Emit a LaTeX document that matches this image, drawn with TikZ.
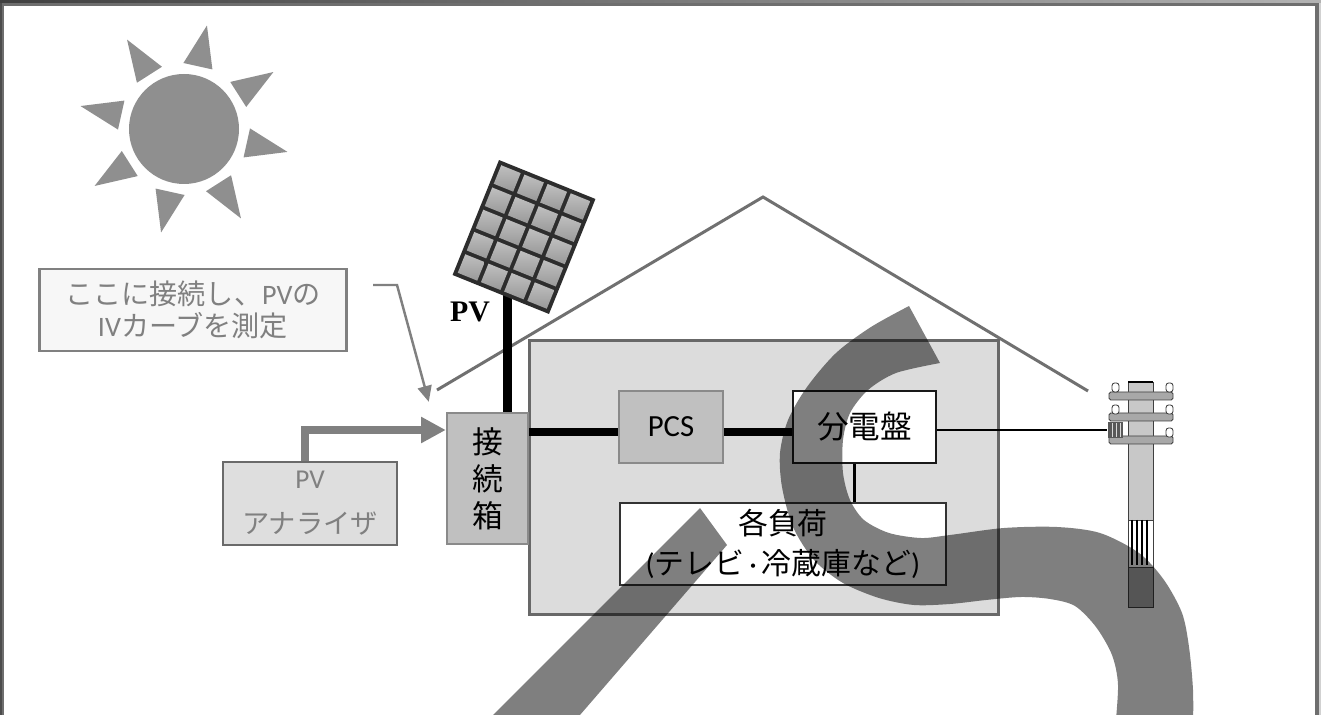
\documentclass[tikz,border=0pt]{standalone}
\usepackage{fontspec}
\setmainfont{Carlito}
\newfontfamily\jp{Noto Sans CJK JP}
\newfontfamily\pvserif{Liberation Serif}
\usepackage{tikz}
\usetikzlibrary{arrows.meta, positioning, calc}
\definecolor{framegray}{RGB}{110,110,110}
\definecolor{sungray}{RGB}{143,143,143}
\definecolor{roofgray}{RGB}{112,112,112}
\definecolor{boxgray}{RGB}{192,192,192}
\definecolor{boxedge}{RGB}{138,138,138}
\definecolor{housegray}{RGB}{220,220,220}
\definecolor{houseedge}{RGB}{104,104,104}
\definecolor{notegray}{RGB}{128,128,128}
\definecolor{notefill}{RGB}{247,247,247}
\definecolor{anafill}{RGB}{222,222,222}
\definecolor{anaedge}{RGB}{106,106,106}
\definecolor{panelline}{RGB}{45,45,45}
\definecolor{poleface}{RGB}{200,200,200}
\definecolor{armgray}{RGB}{168,168,168}

\begin{document}
\begin{tikzpicture}[x=0.02cm, y=-0.02cm,
  every node/.style={inner sep=0pt},
  greybox/.style={draw=boxedge, fill=boxgray, line width=1.4pt, align=center},
  bigtext/.style={font=\fontsize{17.5}{21}\selectfont},
  notetext/.style={text=notegray, align=center},
  buswire/.style={line width=4.2pt},
  thinwire/.style={line width=1.7pt},
  polepart/.style={draw=black!75, line width=0.5pt}]

  \useasboundingbox (0,0) rectangle (1321,715);
  \fill[framegray] (0,0) rectangle (1321,715);
  \shade[left color=black!75, right color=black!30] (0,0) rectangle (1321,3);
  \fill[black!70] (0,3) rectangle (2,715);
  \fill[black!18] (1319,3) rectangle (1321,715);
  \fill[white] (4,6) rectangle (1315,715);

  \fill[sungray] (184,129) circle (55);
  \foreach \a in {-77.5,-32.5,12.5,57.5,102.5,147.5,192.5,237.5}
    \fill[sungray, shift={(184,129)}] (\a-13:66) -- (\a:106) -- (\a+13:66) -- cycle;

  \draw[roofgray, line width=1.7pt] (437,390) -- (763,197) -- (1088,391);

  \node[draw=notegray, fill=notefill, line width=1.4pt, minimum width=6.14cm, minimum height=1.63cm,
    notetext, font=\fontsize{16}{18}\selectfont] (note) at (193,310)
    {{\jp ここに接続し、}PV{\jp の}\\IV{\jp カーブを測定}};
  \node[draw=anaedge, fill=anafill, line width=1.4pt, minimum width=3.48cm, minimum height=1.66cm,
    notetext, font=\fontsize{15.5}{25.5}\selectfont] (ana) at (310,503.5)
    {PV\\{\jp アナライザ}};

  \node[draw=houseedge, fill=housegray, line width=1.7pt, minimum width=9.4cm, minimum height=5.5cm] (house) at (764,477.5) {};
  \node[greybox, minimum width=1.62cm, minimum height=2.62cm, font=\jp\fontsize{17.5}{21}\selectfont] (jbox) at (487.5,478.5) {接\\続\\箱};
  \node[greybox, minimum width=2.08cm, minimum height=1.44cm, bigtext] (pcs) at (671,427) {PCS};
  \node[draw=black!90, fill=white, line width=1.5pt, minimum width=2.86cm, minimum height=1.44cm,
    font=\jp\fontsize{18}{21}\selectfont] (board) at (864.5,427) {分電盤};
  \node[draw=black!80, fill=white, line width=0.9pt, minimum width=6.52cm, minimum height=1.64cm, align=center,
    font=\fontsize{17}{22.7}\selectfont] (loads) at (783,544) {{\jp 各負荷}\\({\jp テレビ}\,·\,{\jp 冷蔵庫など})};

  \coordinate (bus) at (0,432);
  \draw[buswire] (jbox.east |- bus) -- (pcs.west |- bus);
  \draw[buswire] (pcs.east |- bus) -- (board.west |- bus);
  \draw[thinwire] ([xshift=-0.21cm]board.south) -- ([xshift=-0.21cm]board.south |- loads.north);

  \coordinate (pvfoot) at (507.5,292);
  \draw[line width=5pt] (pvfoot) -- (pvfoot |- jbox.north);
  \begin{scope}[shift={(524,237)}, rotate=-22]
    \fill[panelline] (-52,-62) rectangle (52,62);
    \foreach \i in {0,...,3}
      \foreach \j in {0,...,4}
        \shade[top color=gray!50, bottom color=gray!80] (-50+\i*25+2,-60+\j*24+2) rectangle ++(21,20);
  \end{scope}
  \node[font=\pvserif\bfseries\fontsize{17}{20}\selectfont] (pvlabel) at (470,312) {PV};

  \draw[notegray, line width=4.3pt, -{Triangle[length=14pt, width=14pt]}]
    ([xshift=-0.1cm]ana.north) |- ([yshift=0.97cm]jbox.west);
  \coordinate (hint) at (373,285);
  \draw[notegray, line width=1.4pt, -{Triangle[length=9pt, width=8pt]}]
    (hint) -- ++(24,0) -- ([shift={(-0.34cm,0.2cm)}]jbox.north west);

  \filldraw[polepart, fill=poleface] (1128,382) rectangle (1153,520);
  \filldraw[polepart, fill=white] (1128,520) rectangle (1153,567);
  \foreach \x in {1132,1137,1142,1147}
    \draw[line width=0.9pt] (\x,520) -- (\x,565);
  \filldraw[polepart, fill=gray!65] (1128,567) rectangle (1153,607);
  \draw[line width=1.2pt] (1128,382) -- (1153,382);
  \foreach \y in {392,413,436}
    \filldraw[polepart, fill=armgray, rounded corners=1pt] (1109,\y) rectangle (1173,\y+8);
  \foreach \x/\y in {1112/383,1166/383,1112/405,1166/405,1166/428}
    \filldraw[polepart, fill=white, rounded corners=1.5pt] (\x,\y) rectangle ++(7,9);
  \node[fill=black!65, minimum width=0.3cm, minimum height=0.32cm] (clamp) at (1115,430) {};
  \foreach \x in {1112,1116,1120}
    \draw[white!70!gray, line width=0.5pt] (\x,423) -- (\x,437);
  \draw[thinwire] (board.east |- clamp) -- (clamp.west);

  \begin{scope}
    \clip (0,0) rectangle (1321,715);
    \fill[black, opacity=0.5] plot[smooth] coordinates {(909,306) (871,327) (836,353) (807,387) (788,420)
      (780,453) (782,487) (793,527) (814,560) (843,583) (879,598) (914,605) (950,604) (986,600) (1021,597)
      (1050,599) (1075,606) (1096,627) (1112,655) (1118,685) (1115,730)}
      -- plot[smooth] coordinates {(1193,730) (1193,690) (1189,647) (1182,613) (1164,580) (1139,553)
      (1100,533) (1057,527) (1004,528) (950,535) (921,538) (889,533) (864,520) (850,500) (843,473)
      (843,440) (850,413) (868,390) (896,373) (940,363)} -- cycle;
    \fill[black, opacity=0.5] (700,508) -- (727,545) -- (567,730) -- (478,730) -- cycle;
  \end{scope}
\end{tikzpicture}
\end{document}
